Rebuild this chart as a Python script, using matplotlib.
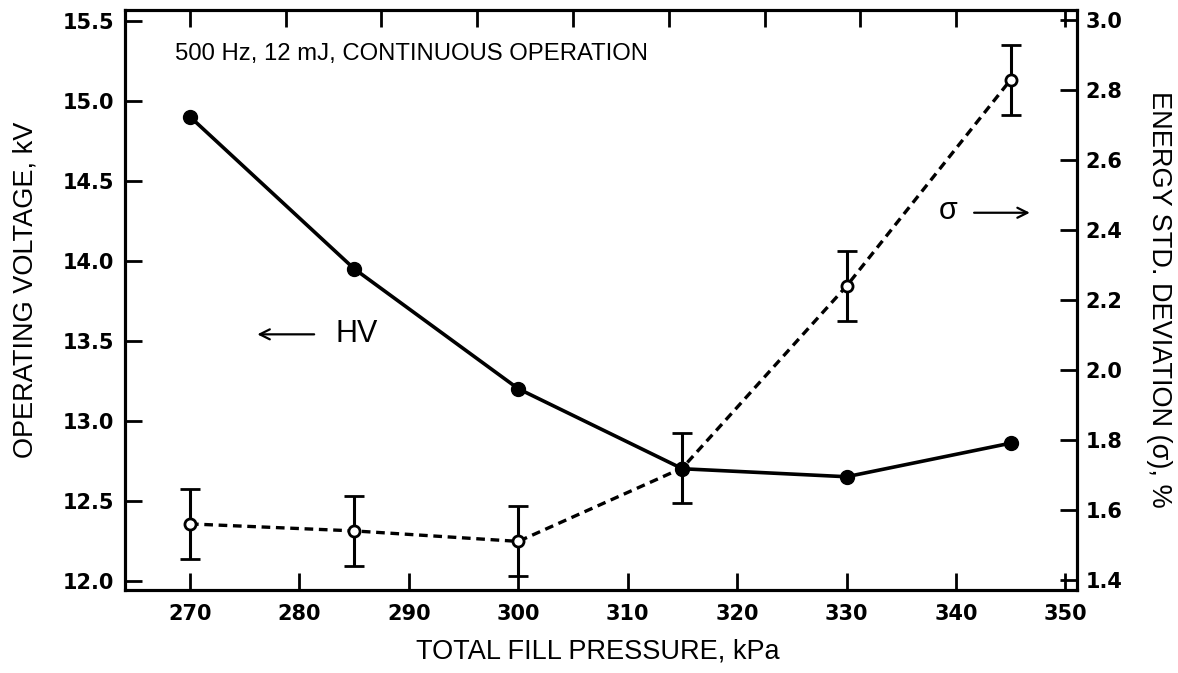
import matplotlib
matplotlib.use("Agg")
import matplotlib.pyplot as plt
import numpy as np

# total fill pressure, kPa
pressure = [270, 285, 300, 315, 330, 345]
# operating voltage, kV (left axis)
hv = [14.9, 13.95, 13.2, 12.7, 12.65, 12.86]
# energy std. deviation, % (right axis)
sigma = [1.56, 1.54, 1.51, 1.72, 2.24, 2.83]
sigma_err = [0.10, 0.10, 0.10, 0.10, 0.10, 0.10]

xticks = [270, 280, 290, 300, 310, 320, 330, 340, 350]
top_ticks = list(np.linspace(270, 340, 9)) + [350]
hv_ticks = [12.0, 12.5, 13.0, 13.5, 14.0, 14.5, 15.0, 15.5]
sigma_ticks = [1.4, 1.6, 1.8, 2.0, 2.2, 2.4, 2.6, 2.8, 3.0]

txt = "Liberation Sans"
tickfont = "DejaVu Sans"

fig = plt.figure(figsize=(11.78, 6.73), dpi=100)
ax = fig.add_axes([0.1061, 0.1233, 0.8082, 0.8618])
ax2 = ax.twinx()
ax3 = ax.twiny()

# sigma, dashed with open circles and error bars
ax2.errorbar(pressure, sigma, yerr=sigma_err, fmt='o', color='k',
             mfc='white', mec='k', ms=8, mew=2, elinewidth=2.2,
             capsize=7, capthick=2.2, zorder=2)
ax2.plot(pressure, sigma, color='k', lw=2.4, dashes=(2.6, 1.7), zorder=1)

# HV, solid with filled dots
ax.plot(pressure, hv, color='k', lw=2.6, marker='o', ms=10, zorder=5)
ax.set_zorder(ax2.get_zorder() + 1)
ax.patch.set_visible(False)

ax.set_xlim(264.06, 351.06)
ax.set_ylim(11.942, 15.567)
ax2.set_ylim(1.371, 3.029)
ax3.set_xlim(ax.get_xlim())

ax.set_xticks(xticks)
ax.set_yticks(hv_ticks)
ax.set_yticklabels([f"{v:.1f}" for v in hv_ticks])
ax2.set_yticks(sigma_ticks)
ax2.set_yticklabels([f"{v:.1f}" for v in sigma_ticks])
ax3.set_xticks(top_ticks)
ax3.set_xticklabels([])

for a in (ax, ax2, ax3):
    for s in a.spines.values():
        s.set_linewidth(2.2)
    a.tick_params(direction='in', length=12, width=2, labelsize=15)
    for lab in a.get_xticklabels() + a.get_yticklabels():
        lab.set_family(tickfont)
        lab.set_fontweight('bold')
ax.tick_params(axis='x', pad=10)
ax.tick_params(axis='y', pad=8)
ax2.tick_params(axis='y', pad=6)

ax.text(268.6, 15.29, "500 Hz, 12 mJ, CONTINUOUS OPERATION",
        family=txt, fontsize=17.2, va='center', ha='left')
ax.annotate("", xy=(275.9, 13.54), xytext=(281.6, 13.54),
            arrowprops=dict(arrowstyle='->', lw=1.6, color='k', mutation_scale=18))
ax.text(283.3, 13.54, "HV", family=txt, fontsize=22, va='center', ha='left')
ax.text(339.3, 14.31, "σ", family=txt, fontsize=22, va='center', ha='center')
ax.annotate("", xy=(347.0, 14.30), xytext=(341.4, 14.30),
            arrowprops=dict(arrowstyle='->', lw=1.6, color='k', mutation_scale=18))

fig.text(0.5076, 0.012, "TOTAL FILL PRESSURE, kPa", family=txt, fontsize=19.5,
         ha='center', va='bottom')
fig.text(0.022, 0.57, "OPERATING VOLTAGE, kV", family=txt, fontsize=19.5,
         ha='center', va='center', rotation=90)
fig.text(0.984, 0.555, "ENERGY STD. DEVIATION (σ), %", family=txt, fontsize=19.5,
         ha='center', va='center', rotation=-90)

fig.savefig("out.png", dpi=100)
